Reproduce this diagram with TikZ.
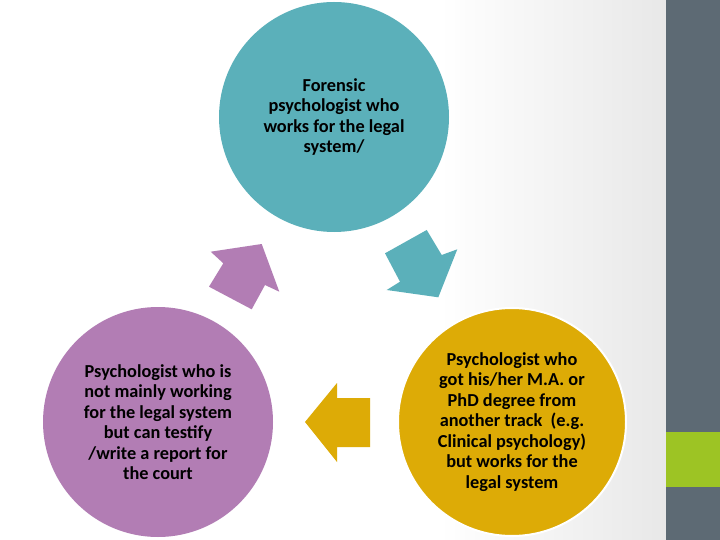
\documentclass[tikz,border=0pt]{standalone}
\usepackage{fontspec}
\setmainfont{Carlito}
\definecolor{tealc}{RGB}{91,176,186}
\definecolor{purplec}{RGB}{178,125,180}
\definecolor{goldc}{RGB}{221,171,6}
\definecolor{slatec}{RGB}{93,106,116}
\definecolor{limec}{RGB}{157,196,36}
\definecolor{bggray}{RGB}{232,232,232}
\begin{document}
\begin{tikzpicture}[x=1pt,y=-1pt,
  circ/.style={circle, minimum size=230pt, inner sep=0pt, align=center,
    font=\bfseries\fontsize{18.3}{20.5}\selectfont, text=black}]
\useasboundingbox (0,0) rectangle (720,540);
\fill[white] (0,0) rectangle (666,540);
\shade[left color=white, right color=bggray] (440,0) rectangle (666,540);
\fill[slatec] (666,0) rectangle (720,540);
\fill[limec] (666,432) rectangle (720,487);

\node[circ, fill=tealc] (forensic) at (334,117)
  {Forensic\\psychologist who\\works for the legal\\system/};
\node[circ, fill=purplec] (notmain) at (158,422)
  {Psychologist who is\\not mainly working\\for the legal system\\but can testify\\/write a report for\\the court};
\node[circ, fill=goldc, draw=white, line width=2pt, minimum size=228pt] (other) at (512,422)
  {Psychologist who\\got his/her M.A. or\\PhD degree from\\another track\ \ (e.g.\\Clinical psychology)\\but works for the\\legal system};

\fill[purplec] (261.7,244) -- (279.3,291.7) -- (265,285) -- (251.7,309.3)
  -- (209,286.7) -- (223.3,263.3) -- (210.7,251.7) -- cycle;
\fill[tealc] (438.3,297.3) -- (386.7,290) -- (400,281.7) -- (385,253.3)
  -- (426.7,230) -- (441.7,255) -- (457.3,249.3) -- cycle;
\fill[goldc] (305,422) -- (337,383) -- (337,398) -- (370,398)
  -- (370,447) -- (337,447) -- (337,462) -- cycle;
\end{tikzpicture}
\end{document}
